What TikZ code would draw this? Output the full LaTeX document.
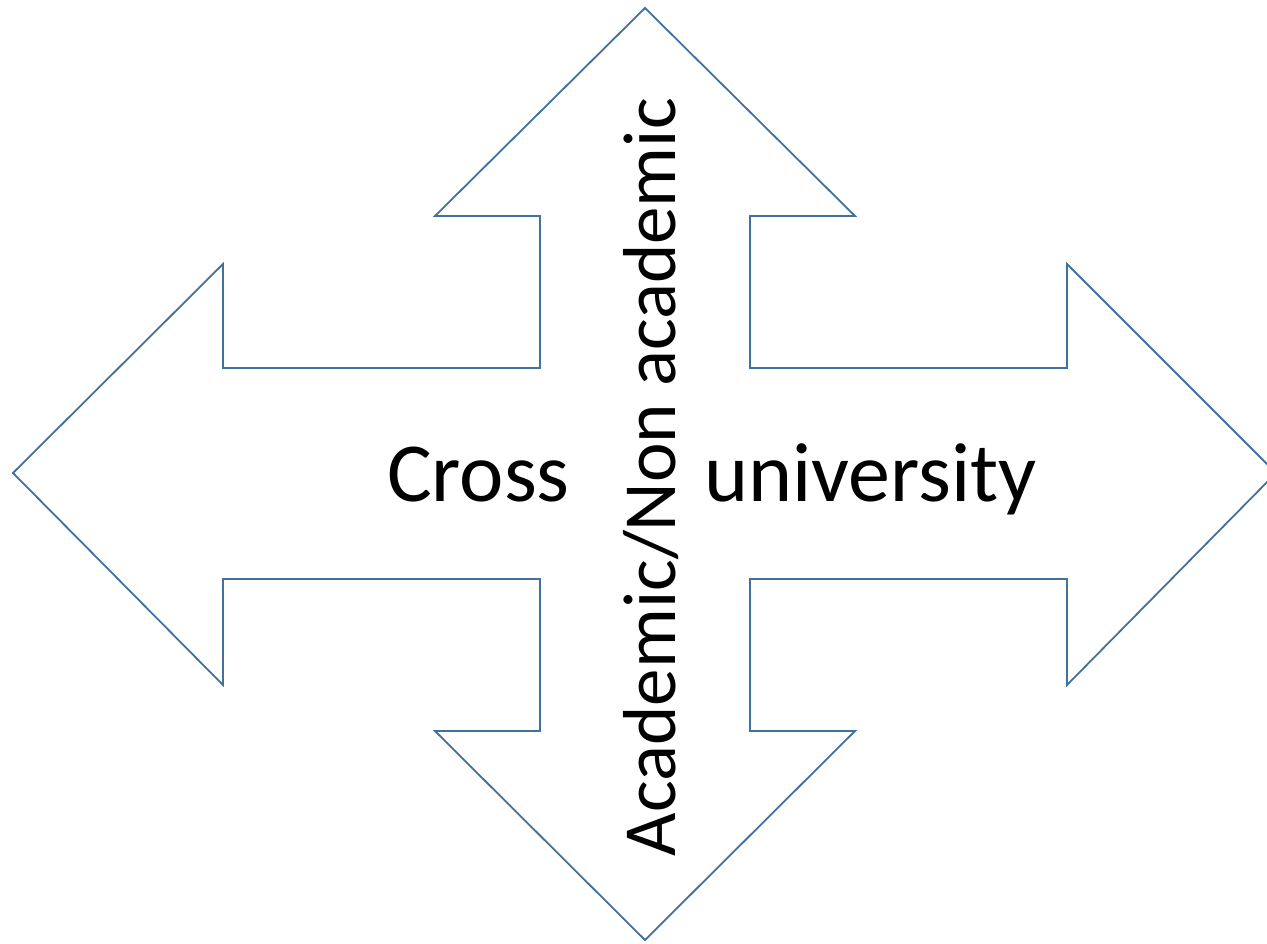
\documentclass[tikz,border=0pt]{standalone}
\usepackage{fontspec}
\setmainfont{Carlito}
\definecolor{outl}{HTML}{41719C}
\tikzset{
  quadarrow/.style={draw=outl, line width=1.8pt, line join=miter},
  lbl/.style={inner sep=0pt, outer sep=0pt, text=black},
  hlbl/.style={lbl, font=\fontsize{84}{100}\selectfont},
  vlbl/.style={lbl, font=\fontsize{75}{90}\selectfont}
}
\begin{document}
\begin{tikzpicture}[x=1pt,y=-1pt]
\useasboundingbox (0,0) rectangle (1267,944);
\clip (0,0) rectangle (1267,944);
\draw[quadarrow]
  (645,8) -- (855,216) -- (750,216) -- (750,368) -- (1067,368) -- (1067,264)
  -- (1276,473) -- (1067,685) -- (1067,579) -- (750,579) -- (750,731)
  -- (855,731) -- (645,940) -- (435,731) -- (540,731) -- (540,579)
  -- (223,579) -- (223,685) -- (13,473) -- (223,264) -- (223,368)
  -- (540,368) -- (540,216) -- (435,216) -- cycle;
\node[hlbl, anchor=base west] (cross) at (387,501) {Cross};
\node[hlbl, anchor=base west] (univ) at (704,501) {university};
\node[vlbl, anchor=base west, rotate=90] (acad) at (675,856) {Academic/Non academic};
\end{tikzpicture}
\end{document}
